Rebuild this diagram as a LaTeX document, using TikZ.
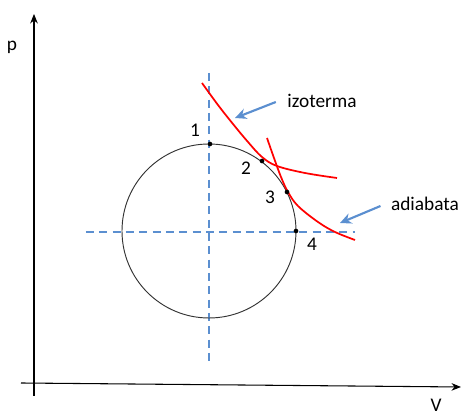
\documentclass[tikz,border=0pt]{standalone}
\usepackage{fontspec}
\setmainfont{Carlito}
\usetikzlibrary{arrows.meta,positioning}
\definecolor{pvblue}{HTML}{5B8FD0}
\definecolor{pvred}{HTML}{FF0000}
\tikzset{
  axis/.style={line width=0.8pt, -{Stealth[length=2.5mm,width=2mm]}},
  guide/.style={draw=pvblue, line width=1.3pt, dash pattern=on 6pt off 4pt},
  curve/.style={draw=pvred, line width=1.3pt},
  cycleline/.style={draw=black!80, line width=0.7pt},
  pointer/.style={draw=pvblue, line width=1.6pt, -{Stealth[length=3mm,width=2.8mm]}},
  dot/.style={circle, fill=black, inner sep=0pt, minimum size=3.5pt},
  lbl/.style={font=\fontsize{14.5}{16}\selectfont, inner sep=1pt},
}
\begin{document}
\begin{tikzpicture}[x=0.75pt,y=-0.75pt]
  \useasboundingbox (0,0) rectangle (462,416);
  % axes
  \coordinate (ybot) at (34,396);
  \coordinate (ytop) at (34,14);
  \coordinate (xleft) at (21,383);
  \coordinate (xright) at (461,387);
  \draw[axis] (ybot) -- (ytop);
  \draw[axis] (xleft) -- (xright);
  \node[lbl] (plabel) at (12,47) {p};
  \node[lbl] (vlabel) at (436,405) {V};
  % circle and guides
  \coordinate (center) at (209,231);
  \coordinate (vtop) at (209,73);
  \coordinate (vbot) at (209,363);
  \coordinate (hleft) at (86,232);
  \coordinate (hright) at (355,232);
  \draw[guide] (vtop) -- (vbot);
  \draw[guide] (hleft) -- (hright);
  \draw[cycleline] (center) circle[radius=87];
  % isotherm and adiabat
  \draw[curve] plot[smooth,tension=0.6] coordinates {(202,83) (218,105) (233,124) (248,142) (262,157) (277,166) (305,173) (337,178)};
  \draw[curve] plot[smooth,tension=0.6] coordinates {(267,138) (274,158) (281,177) (288,192) (298,206) (318,222) (335,232) (355,240)};
  % points
  \node[dot] (p1) at (210,144) {};
  \node[dot] (p2) at (262,161) {};
  \node[dot] (p3) at (287,192) {};
  \node[dot] (p4) at (296,231) {};
  \node[lbl] (n1) at (195,130) {1};
  \node[lbl] (n2) at (246,168) {2};
  \node[lbl] (n3) at (270,197) {3};
  \node[lbl] (n4) at (312,244) {4};
  % labels with pointers
  \node[lbl] (izo) at (322,101) {izoterma};
  \node[lbl] (adi) at (425,204) {adiabata};
  \coordinate (izotip) at (235,118);
  \coordinate (aditip) at (340,223);
  \draw[pointer] (izo.west) ++(-10,1) -- (izotip);
  \draw[pointer] (adi.west) ++(-9,2) -- (aditip);
\end{tikzpicture}
\end{document}
